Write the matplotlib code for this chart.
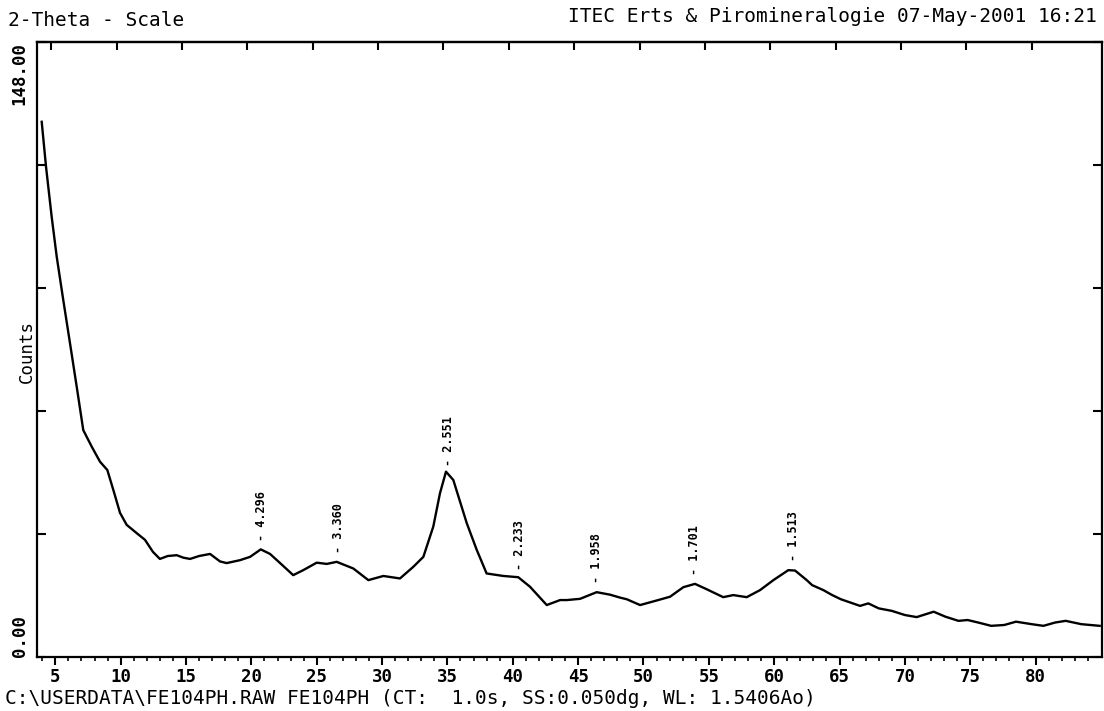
import matplotlib
matplotlib.use("Agg")
import matplotlib.pyplot as plt
import numpy as np

# ---- data ----
two_theta = [3.96, 4.29, 4.72, 5.11, 5.61, 6.12, 6.64, 7.14, 7.79, 8.42, 8.98, 9.44,
             9.95, 10.46, 11.23, 11.86, 12.47, 13.0, 13.6, 14.29, 14.8, 15.31, 16.0,
             16.84, 17.6, 18.11, 19.13, 19.9, 20.72, 21.43, 22.2, 23.2, 23.97, 25.0,
             25.77, 26.53, 27.8, 28.95, 30.1, 31.37, 32.39, 33.16, 33.92, 34.43, 34.89,
             35.45, 36.48, 37.24, 38.0, 39.28, 40.42, 41.32, 42.6, 43.62, 44.13, 45.15,
             46.42, 47.44, 48.2, 48.72, 49.74, 51.01, 52.03, 53.05, 53.94, 54.84, 56.1,
             56.87, 57.9, 58.92, 59.94, 61.08, 61.6, 62.49, 62.9, 63.76, 64.44, 65.1,
             66.57, 67.2, 68.0, 69.0, 70.0, 70.9, 72.2, 73.1, 74.1, 74.8, 75.6, 76.6,
             77.6, 78.5, 79.7, 80.6, 81.5, 82.3, 83.5, 84.9]
counts = [128.8, 118.0, 106.0, 96.3, 85.9, 75.6, 65.0, 54.6, 50.6, 47.0, 45.0, 40.2,
          34.7, 31.8, 29.8, 28.2, 25.3, 23.6, 24.3, 24.5, 23.9, 23.6, 24.3,
          24.8, 23.0, 22.6, 23.3, 24.1, 25.9, 24.8, 22.6, 19.7, 20.9, 22.7,
          22.4, 22.9, 21.3, 18.5, 19.5, 18.9, 21.7, 24.1, 31.4, 39.4, 44.6,
          42.6, 32.2, 25.8, 20.1, 19.5, 19.2, 16.9, 12.5, 13.7, 13.7, 14.0,
          15.6, 15.0, 14.3, 13.9, 12.5, 13.6, 14.5, 16.8, 17.6, 16.3, 14.4,
          14.9, 14.4, 16.1, 18.5, 20.9, 20.8, 18.5, 17.3, 16.1, 14.9, 13.9,
          12.3, 12.9, 11.7, 11.1, 10.1, 9.6, 10.9, 9.7, 8.7, 8.9, 8.3, 7.5,
          7.7, 8.5, 7.9, 7.5, 8.3, 8.7, 7.9, 7.5]

peak_2theta = [20.81, 26.65, 35.12, 40.55, 46.42, 53.94, 61.47]
peak_labels = ["4.296", "3.360", "2.551", "2.233", "1.958", "1.701", "1.513"]

x_ticks = list(range(5, 81, 5))
x_tick_labels = [str(v) for v in x_ticks]
y_max = 148.0
y_tick_labels = ["0.00", "148.00"]

header_left = "2-Theta - Scale"
header_right = "ITEC Erts & Piromineralogie 07-May-2001 16:21"
footer = r"C:\USERDATA\FE104PH.RAW FE104PH (CT:  1.0s, SS:0.050dg, WL: 1.5406Ao)"
y_title = "Counts"

# ---- figure ----
W, H = 1104, 711
fig = plt.figure(figsize=(W / 100, H / 100), dpi=100)
L, R, T, B = 37, 1102, 42, 657
ax = fig.add_axes([L / W, 1 - B / H, (R - L) / W, (B - T) / H])

mono = "DejaVu Sans Mono"
wt = "bold"

ax.plot(two_theta, counts, color="black", lw=1.7, solid_joinstyle="round")
ax.set_xlim(3.6, 85.08)
ax.set_ylim(0, y_max)

for s in ax.spines.values():
    s.set_linewidth(1.6)

# bottom ticks: outward, major + minor
ax.set_xticks(x_ticks)
ax.set_xticklabels(x_tick_labels, family=mono, fontsize=12.5, weight=wt)
ax.set_xticks(np.arange(4, 85, 1), minor=True)
ax.tick_params(axis="x", which="major", direction="out", length=6, width=1.5, pad=2)
ax.tick_params(axis="x", which="minor", direction="out", length=3, width=1.2)

# top ticks: inward, major only
sec = ax.secondary_xaxis("top")
sec.set_xticks([v - 0.3 for v in x_ticks])
sec.set_xticklabels([])
sec.tick_params(direction="in", length=6, width=1.5)
sec.spines["top"].set_linewidth(1.6)

# y ticks: inward on both sides
ax.set_yticks(np.linspace(0, y_max, 6))
ax.set_yticklabels([y_tick_labels[0], "", "", "", "", y_tick_labels[1]],
                   family=mono, fontsize=12.5, rotation=90, weight=wt)
ax.tick_params(axis="y", direction="in", left=True, right=True, length=6.5,
               width=1.5, pad=6)
ylabs = ax.get_yticklabels()
ylabs[0].set_va("bottom")
ylabs[-1].set_va("top")

ax.text(-0.0094, 0.496, y_title, transform=ax.transAxes, rotation=90,
        ha="center", va="center", family=mono, fontsize=12.5)

# peak labels
for px, lab in zip(peak_2theta, peak_labels):
    cy = np.interp(px, two_theta, counts)
    ax.annotate("- " + lab, xy=(px, cy), xytext=(0, 6.5), textcoords="offset points",
                rotation=90, ha="center", va="bottom", family=mono, fontsize=8.5,
                weight=wt)

# headers / footer
fig.text(8 / W, 1 - 20 / H, header_left, ha="left", va="center", family=mono,
         fontsize=14)
fig.text(1097 / W, 1 - 17 / H, header_right, ha="right", va="center", family=mono,
         fontsize=14)
fig.text(5 / W, 1 - 698 / H, footer, ha="left", va="center", family=mono,
         fontsize=14)

fig.savefig("out.png", dpi=100)
